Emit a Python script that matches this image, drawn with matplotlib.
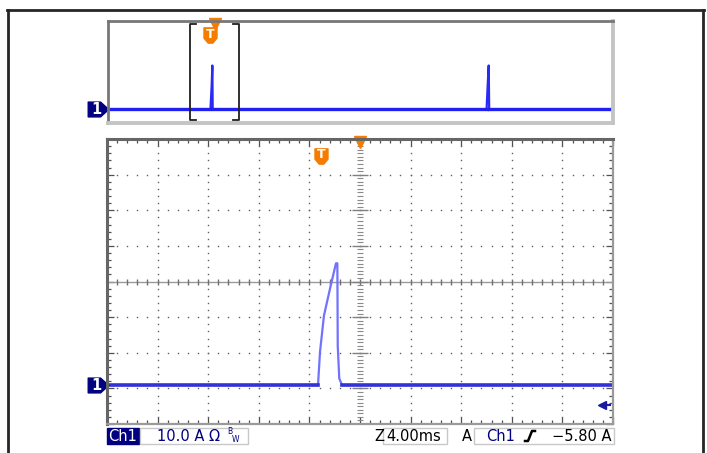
import numpy as np
import matplotlib.pyplot as plt
from matplotlib.path import Path
from matplotlib.lines import Line2D
from matplotlib.patches import Rectangle
from matplotlib.ticker import MultipleLocator
from matplotlib.transforms import blended_transform_factory

# main window: 4 ms/div, 10 A/div, trigger at t = 0
t_main = [-20.0, -3.32, -3.16, -2.85, -2.37, -1.90, -1.79, -1.76, -1.64, -1.42, 20.0]
i_main = [-29.1, -29.1, -19.7, -9.6, -2.0, 5.1, 5.1, -18.0, -27.2, -29.1, -29.1]

# whole record shown in the overview strip
t_over = [-86.5, -3.4, -2.4, -1.9, -1.6, 220.5, 221.4, 222.2, 222.6, 323.0]
i_over = [-29.1, -29.1, -10.0, 5.1, -29.1, -29.1, -10.0, 5.1, -29.1, -29.1]

ch_label = "Ch1"
vscale_label = "10.0 A"
timebase_label = "4.00ms"
trig_level_label = "\u22125.80 A"
trig_arrow_level = -34.8

W, H = 707, 453
NAVY = "#000080"
ORANGE = "#f57c00"


def fx(x):
    return x / W


def fy(y):
    return 1 - y / H


fig = plt.figure(figsize=(W / 100, H / 100), dpi=100)
fig.patch.set_facecolor("white")

# outer frame
for xs, ys in [((7, 704), (10, 10)), ((8, 8), (10, 453)), ((703, 703), (10, 453))]:
    fig.add_artist(Line2D([fx(v) for v in xs], [fy(v) for v in ys], color="#262626", lw=2.0))

ax_over = fig.add_axes([fx(108), fy(123), fx(613) - fx(108), fy(21) - fy(123)])
ax = fig.add_axes([fx(107), fy(424), fx(613) - fx(107), fy(139) - fy(424)])

shield = Path([(-0.85, 1.0), (0.85, 1.0), (0.85, -0.35), (0.3, -1.0), (-0.3, -1.0), (-0.85, -0.35), (-0.85, 1.0)],
              [Path.MOVETO] + [Path.LINETO] * 5 + [Path.CLOSEPOLY])
pent = Path([(-1, -0.72), (0.2, -0.72), (1, 0), (0.2, 0.72), (-1, 0.72), (-1, -0.72)],
            [Path.MOVETO] + [Path.LINETO] * 4 + [Path.CLOSEPOLY])


def ch_marker(a, xfrac, level):
    tr = blended_transform_factory(a.transAxes, a.transData)
    a.plot([xfrac], [level], marker=pent, ms=14.8, color=NAVY, transform=tr, clip_on=False)
    a.text(xfrac - 0.004, level, "1", color="white", fontsize=10.5, fontweight="bold",
           ha="center", va="center", transform=tr, clip_on=False)


def trig_marker(a, t, yfrac):
    tr = blended_transform_factory(a.transData, a.transAxes)
    a.plot([t], [yfrac], marker=shield, ms=11, color=ORANGE, transform=tr, clip_on=False)
    a.text(t, yfrac + 0.005, "T", color="white", fontsize=9, fontweight="bold",
           ha="center", va="center", transform=tr, clip_on=False)


# ---- overview strip ----
ax_over.set_xlim(-86.5, 323)
ax_over.set_ylim(-40, 40)
ax_over.plot(t_over, i_over, color="#2a2af5", lw=1.6)
ax_over.plot(t_over[:2], i_over[:2], color="#2020f0", lw=2.4)
ax_over.plot(t_over[4:6], i_over[4:6], color="#2020f0", lw=2.4)
ax_over.plot(t_over[-2:], i_over[-2:], color="#2020f0", lw=2.4)
# window bracket (+-20 ms)
for s in (-1, 1):
    ax_over.plot([20 * s - 5 * s, 20 * s, 20 * s, 20 * s - 5 * s], [37.5, 37.5, -37.5, -37.5],
                 color="#202020", lw=1.3)
ax_over.set_xticks([])
ax_over.set_yticks([])
for side in ("left", "top"):
    ax_over.spines[side].set_color("#777777")
    ax_over.spines[side].set_linewidth(2.0)
for side in ("right", "bottom"):
    ax_over.spines[side].set_color("#c4c4c4")
    ax_over.spines[side].set_linewidth(2.8)
ch_marker(ax_over, -0.0198, -29.1)
trig_marker(ax_over, -3.8, 0.86)
ax_over.plot([0], [0.975], marker="v", ms=8, color=ORANGE,
             transform=blended_transform_factory(ax_over.transData, ax_over.transAxes), clip_on=False)

# ---- main window ----
ax.set_xlim(-20, 20)
ax.set_ylim(-40, 40)
gx = np.arange(-16, 17, 4)
gy = np.arange(-30, 31, 10)
minor_x = np.arange(-20, 20.01, 0.8)
minor_y = np.arange(-40, 40.01, 2)
for x in gx:
    if x == 0:
        continue
    ax.plot(np.full_like(minor_y, x), minor_y, ls="none", marker="s", ms=1.0, mew=0, color="#606060")
for y in gy:
    if y == 0:
        continue
    ax.plot(minor_x, np.full_like(minor_x, y), ls="none", marker="s", ms=1.0, mew=0, color="#606060")
# centre crosshair
ax.axhline(0, color="#9a9a9a", lw=1.0)
ax.plot(minor_x, np.zeros_like(minor_x), ls="none", marker="|", ms=4.5, mew=1, color="#707070")
fine_y = np.arange(-40, 40.01, 1)
ax.plot(np.zeros_like(fine_y), fine_y, ls="none", marker="_", ms=4, mew=0.8, color="#8a8a8a")
ax.plot(np.zeros_like(gy), gy, ls="none", marker="_", ms=12, mew=1, color="#808080")

ax.plot(t_main, i_main, color="#7272ff", lw=1.6)
ax.plot(t_main[:2], i_main[:2], color="#3232d8", lw=2.6)
ax.plot(t_main[-2:], i_main[-2:], color="#3232d8", lw=2.6)

ax.xaxis.set_major_locator(MultipleLocator(4))
ax.yaxis.set_major_locator(MultipleLocator(10))
ax.xaxis.set_minor_locator(MultipleLocator(0.8))
ax.yaxis.set_minor_locator(MultipleLocator(2))
ax.tick_params(which="both", direction="in", top=True, right=True,
               labelbottom=False, labelleft=False, color="#505050", width=0.9)
ax.tick_params(which="major", length=5)
ax.tick_params(which="minor", length=3)
for side in ("left", "top"):
    ax.spines[side].set_color("#666666")
    ax.spines[side].set_linewidth(2.2)
for side in ("right", "bottom"):
    ax.spines[side].set_color("#9a9a9a")
    ax.spines[side].set_linewidth(1.6)

ch_marker(ax, -0.0178, -29.1)
trig_marker(ax, -3.08, 0.94)
ax.plot([0], [0.99], marker="v", ms=8, color=ORANGE,
        transform=blended_transform_factory(ax.transData, ax.transAxes), clip_on=False)
# trigger level arrow at right edge
tr = blended_transform_factory(ax.transAxes, ax.transData)
ax.plot([0.977, 0.995], [trig_arrow_level, trig_arrow_level], color="#1a1aa0", lw=1.5, transform=tr, clip_on=False)
ax.plot([0.978], [trig_arrow_level], marker="<", ms=6, color="#1a1aa0", transform=tr, clip_on=False)

# ---- status bar ----
def box(x0, x1, fc, ec):
    fig.add_artist(Rectangle((fx(x0), fy(444)), fx(x1) - fx(x0), fy(428) - fy(444),
                             transform=fig.transFigure, facecolor=fc, edgecolor=ec, lw=1))


box(107, 139, NAVY, NAVY)
box(140, 248, "white", "#c8c8c8")
box(383, 447, "white", "#c8c8c8")
box(474, 614, "white", "#c8c8c8")

ty = fy(436.5)
fig.text(fx(123), ty, ch_label, color="white", fontsize=10.5, ha="center", va="center")
fig.text(fx(157), ty, vscale_label + " \u03a9", color=NAVY, fontsize=10.5, ha="left", va="center")
fig.text(fx(227), fy(432), "B", color=NAVY, fontsize=5.5, ha="left", va="center")
fig.text(fx(232), fy(440), "W", color=NAVY, fontsize=5.5, ha="left", va="center")
fig.text(fx(374), ty, "Z", color="black", fontsize=10.5, ha="left", va="center")
fig.text(fx(386), ty, timebase_label, color="black", fontsize=10.5, ha="left", va="center")
fig.text(fx(462), ty, "A", color="black", fontsize=10.5, ha="left", va="center")
fig.text(fx(486), ty, ch_label, color=NAVY, fontsize=10.5, ha="left", va="center")
fig.add_artist(Line2D([fx(525), fx(528), fx(532), fx(535)], [fy(441), fy(441), fy(431), fy(431)],
                      color="black", lw=1.8))
fig.text(fx(612), ty, trig_level_label, color="black", fontsize=10.5, ha="right", va="center")

fig.savefig("out.png", dpi=100)
